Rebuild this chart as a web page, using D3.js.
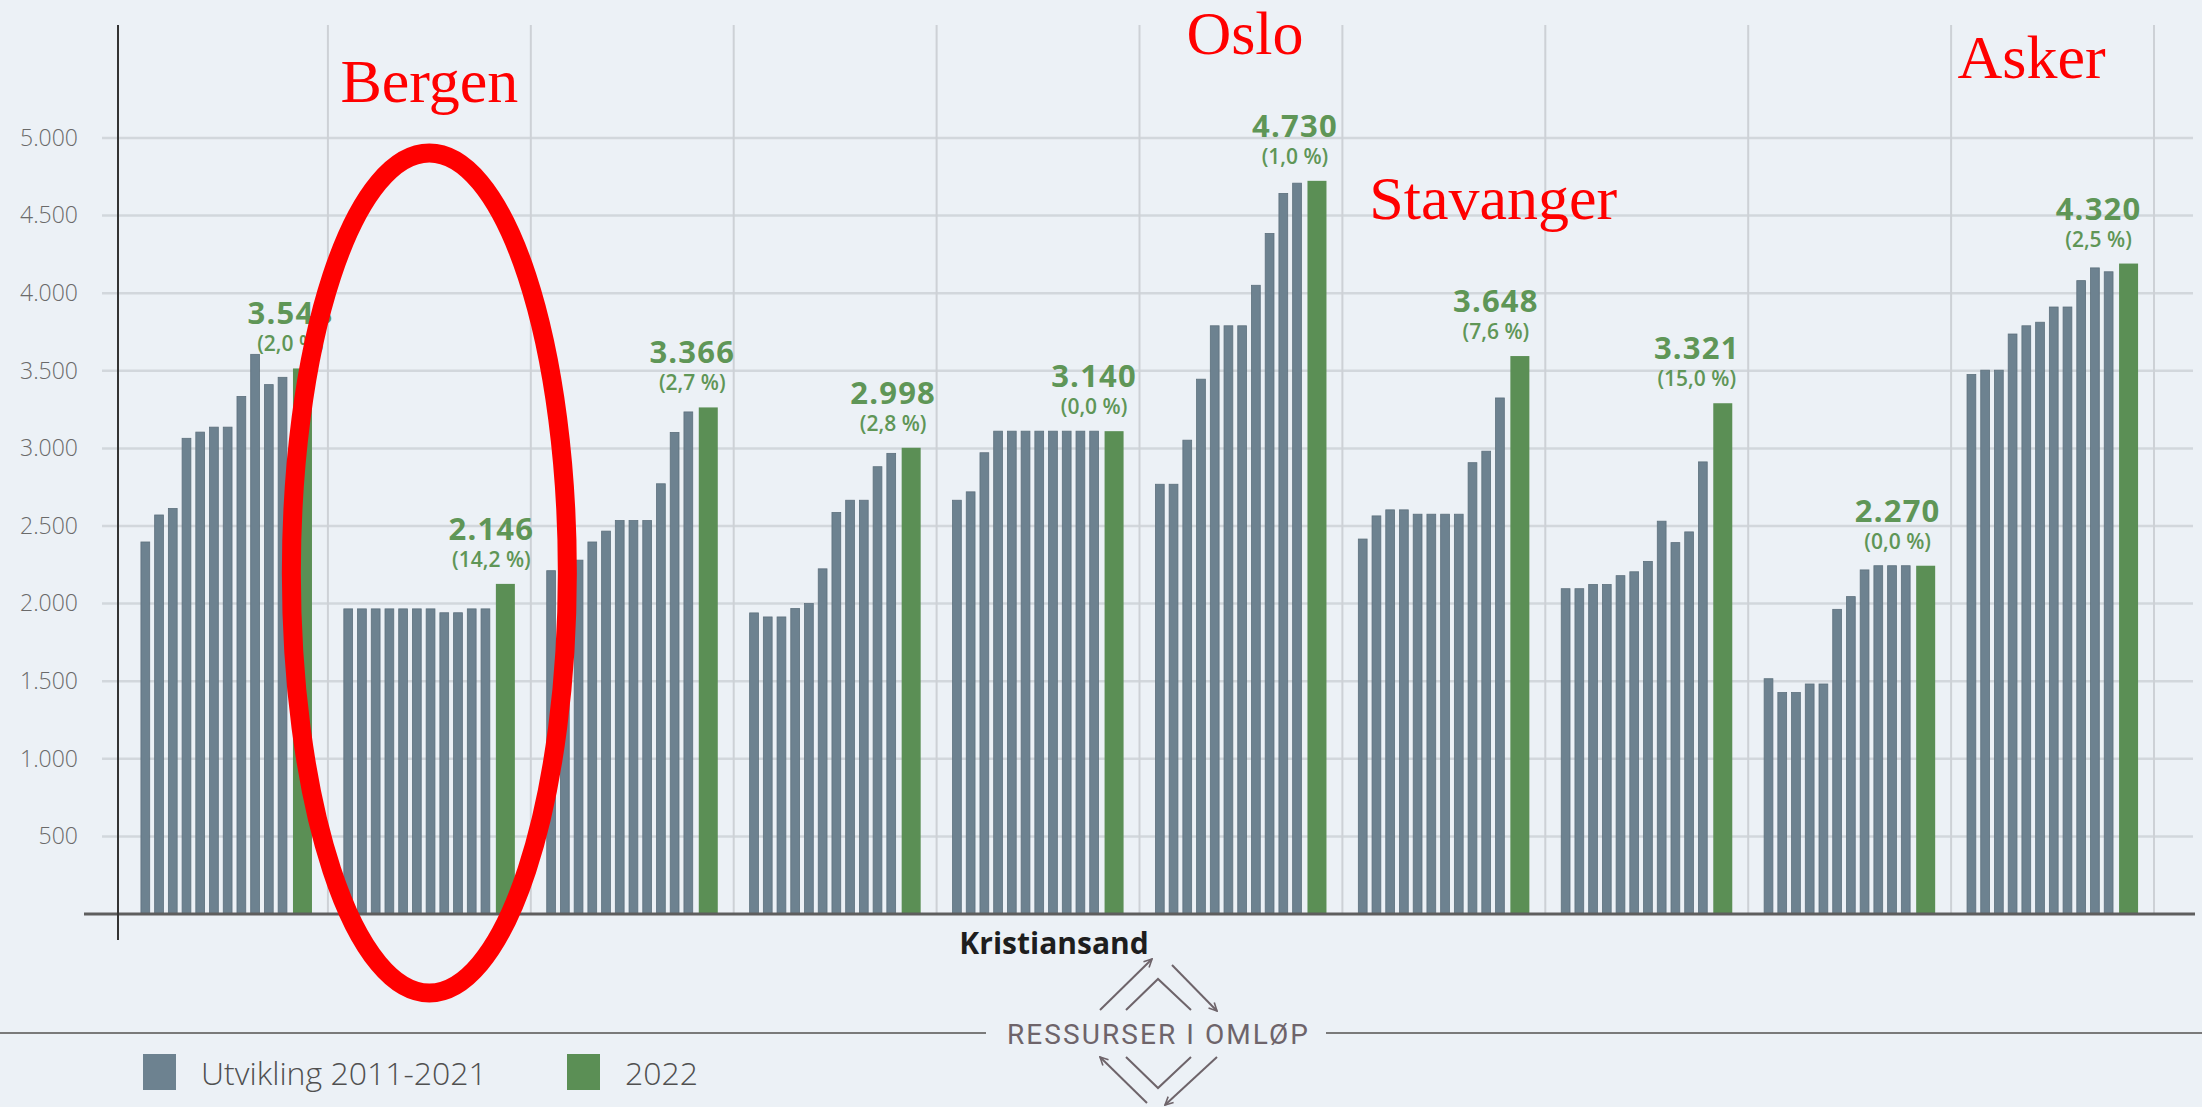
<!DOCTYPE html>
<html lang="no">
<head>
<meta charset="utf-8">
<title>Utvikling 2011-2022</title>
<script src="https://cdn.jsdelivr.net/npm/d3@7"></script>
<style>
  body { margin: 0; background: #ecf1f6; }
  svg { display: block; }
</style>
</head>
<body>
<svg width="2202" height="1107"></svg>
<script>
// ---- data ----
const groups = d3.range(10);
const years = d3.range(2011, 2022);
const axisNames = ["", "", "", "", "Kristiansand", "", "", "", "", ""];
const dev = [
  [2397, 2571, 2613, 3065, 3105, 3137, 3137, 3335, 3606, 3411, 3458],
  [1966, 1966, 1966, 1966, 1966, 1966, 1966, 1941, 1941, 1966, 1966],
  [2212, 2245, 2280, 2397, 2467, 2535, 2535, 2535, 2772, 3103, 3235],
  [1940, 1914, 1914, 1968, 2000, 2224, 2587, 2666, 2666, 2882, 2968],
  [2666, 2720, 2972, 3111, 3111, 3111, 3111, 3111, 3111, 3111, 3111],
  [2769, 2769, 3053, 3446, 3790, 3790, 3790, 4051, 4385, 4643, 4709],
  [2416, 2565, 2604, 2604, 2576, 2576, 2576, 2576, 2908, 2982, 3325],
  [2096, 2096, 2123, 2123, 2180, 2205, 2272, 2531, 2393, 2462, 2913],
  [1516, 1427, 1427, 1482, 1482, 1963, 2045, 2217, 2244, 2244, 2244],
  [3476, 3504, 3504, 3737, 3790, 3813, 3911, 3911, 4081, 4163, 4138]
];
const v2022 = [3515, 2127, 3264, 3004, 3111, 4724, 3595, 3291, 2244, 4191];
const labels2022 = ["3.548", "2.146", "3.366", "2.998", "3.140", "4.730", "3.648", "3.321", "2.270", "4.320"];
const pct2022 = ["(2,0 %)", "(14,2 %)", "(2,7 %)", "(2,8 %)", "(0,0 %)", "(1,0 %)", "(7,6 %)", "(15,0 %)", "(0,0 %)", "(2,5 %)"];
const yTicks = [500, 1000, 1500, 2000, 2500, 3000, 3500, 4000, 4500, 5000];
const legendItems = ["Utvikling 2011-2021", "2022"];
const notes = ["Bergen", "Oslo", "Stavanger", "Asker"];
const noteGroups = [1, 5, 6, 9];

// ---- setup ----
const svg = d3.select("svg");
const grey = "#6d8290";
const green = "#5b8f55";
const labelGreen = "#5f9657";
const fmt = d3.formatLocale({decimal: ",", thousands: ".", grouping: [3], currency: ["", ""]}).format(",d");

const y = d3.scaleLinear().domain([0, 5000]).range([914, 138]);
const x0 = d3.scaleBand().domain(groups).range([118, 2161]).paddingInner(0.157).paddingOuter(0.113);
const x1 = d3.scaleBand().domain(years).range([0, 146]).paddingInner(0.36);
const bw = x0.bandwidth();
const greenW = 19;

// horizontal grid
svg.append("g")
  .selectAll("line")
  .data(yTicks)
  .join("line")
  .attr("x1", 102).attr("x2", 2193)
  .attr("y1", d => y(d)).attr("y2", d => y(d))
  .attr("stroke", "#d2d7dc")
  .attr("stroke-width", 2.5);

// vertical separators
svg.append("g")
  .selectAll("line")
  .data(groups)
  .join("line")
  .attr("x1", d => x0(d) + bw + (x0.step() - bw) / 2)
  .attr("x2", d => x0(d) + bw + (x0.step() - bw) / 2)
  .attr("y1", 25).attr("y2", y(0))
  .attr("stroke", "#cdd1d6")
  .attr("stroke-width", 2);

// y axis labels
const yAxis = svg.append("g")
  .attr("transform", "translate(118,0)")
  .call(d3.axisLeft(y).tickValues(yTicks).tickFormat(fmt).tickSize(0).tickPadding(40));
yAxis.select(".domain").remove();
yAxis.selectAll("text")
  .attr("font-family", "'Open Sans', sans-serif")
  .attr("font-weight", 300)
  .attr("font-size", 23)
  .attr("fill", "#6a6a6a");

// bars
const grp = svg.append("g")
  .selectAll("g")
  .data(groups)
  .join("g")
  .attr("transform", d => `translate(${x0(d)},0)`);

grp.selectAll("rect.dev")
  .data(g => dev[g].map((v, i) => ({year: years[i], v: v})))
  .join("rect")
  .attr("class", "dev")
  .attr("x", d => x1(d.year))
  .attr("width", x1.bandwidth())
  .attr("y", d => y(d.v))
  .attr("height", d => y(0) - y(d.v))
  .attr("fill", grey)
  .attr("stroke", "#5d707d")
  .attr("stroke-width", 0.8);

grp.append("rect")
  .attr("x", bw - greenW)
  .attr("width", greenW)
  .attr("y", g => y(v2022[g]))
  .attr("height", g => y(0) - y(v2022[g]))
  .attr("fill", green);

// value labels (sit a little left of the green bar, drifting further left to the right)
const labelX = g => bw - greenW / 2 - 12 - 2 * g;

grp.append("text")
  .attr("x", labelX)
  .attr("y", g => y(v2022[g]) - 44)
  .attr("text-anchor", "middle")
  .attr("font-family", "'Open Sans', sans-serif")
  .attr("font-weight", 700)
  .attr("font-size", 31)
  .attr("letter-spacing", 1.2)
  .attr("fill", labelGreen)
  .text(g => labels2022[g]);

grp.append("text")
  .attr("x", labelX)
  .attr("y", g => y(v2022[g]) - 17)
  .attr("text-anchor", "middle")
  .attr("font-family", "'Open Sans', sans-serif")
  .attr("font-weight", 600)
  .attr("font-size", 21)
  .attr("fill", labelGreen)
  .text(g => pct2022[g]);

// baseline and y axis line
svg.append("line")
  .attr("x1", 84).attr("x2", 2195)
  .attr("y1", y(0)).attr("y2", y(0))
  .attr("stroke", "#5e5e5e").attr("stroke-width", 3);
svg.append("line")
  .attr("x1", 118).attr("x2", 118)
  .attr("y1", 25).attr("y2", 940)
  .attr("stroke", "#333").attr("stroke-width", 2);

// category label
svg.append("g")
  .selectAll("text")
  .data(groups.filter(g => axisNames[g]))
  .join("text")
  .attr("x", g => x0(g) + bw / 2 + 16)
  .attr("y", 954)
  .attr("text-anchor", "middle")
  .attr("font-family", "'Open Sans', sans-serif")
  .attr("font-weight", 700)
  .attr("font-size", 30)
  .attr("fill", "#1e1e1e")
  .text(g => axisNames[g]);

// footer rule + logo
const logoCol = "#6e646a";
svg.append("line").attr("x1", 0).attr("x2", 986).attr("y1", 1033).attr("y2", 1033)
  .attr("stroke", "#7a7a7a").attr("stroke-width", 2);
svg.append("line").attr("x1", 1326).attr("x2", 2202).attr("y1", 1033).attr("y2", 1033)
  .attr("stroke", "#7a7a7a").attr("stroke-width", 2);
svg.append("text")
  .attr("x", 1007).attr("y", 1044)
  .attr("textLength", 301).attr("lengthAdjust", "spacing")
  .attr("font-family", "Roboto, sans-serif")
  .attr("font-size", 28)
  .attr("fill", logoCol)
  .text("RESSURSER I OMLØP");

svg.append("defs").append("marker")
  .attr("id", "arr")
  .attr("viewBox", "0 0 10 10")
  .attr("refX", 9).attr("refY", 5)
  .attr("markerWidth", 5).attr("markerHeight", 5)
  .attr("orient", "auto")
  .append("path")
  .attr("d", "M1,1 L9,5 L1,9")
  .attr("fill", "none")
  .attr("stroke", logoCol)
  .attr("stroke-width", 1.6);

const logo = svg.append("g")
  .attr("fill", "none")
  .attr("stroke", logoCol)
  .attr("stroke-width", 2);
logo.append("path").attr("d", "M1100,1010 L1152,959").attr("marker-end", "url(#arr)");
logo.append("path").attr("d", "M1172,965 L1217,1011").attr("marker-end", "url(#arr)");
logo.append("path").attr("d", "M1126,1010 L1158,979 L1191,1010");
logo.append("path").attr("d", "M1147,1103 L1100,1057").attr("marker-end", "url(#arr)");
logo.append("path").attr("d", "M1217,1057 L1165,1105").attr("marker-end", "url(#arr)");
logo.append("path").attr("d", "M1126,1057 L1158,1088 L1191,1057");

// legend
const leg = svg.append("g")
  .selectAll("g")
  .data(legendItems)
  .join("g")
  .attr("transform", (d, i) => `translate(${i === 0 ? 143 : 567},1054)`);
leg.append("rect")
  .attr("width", 33).attr("height", 36)
  .attr("fill", (d, i) => i === 0 ? grey : green);
leg.append("text")
  .attr("x", 58).attr("y", 31)
  .attr("font-family", "'Open Sans', sans-serif")
  .attr("font-weight", 300)
  .attr("font-size", 32)
  .attr("fill", "#505050")
  .text(d => d);

// red annotations
svg.append("ellipse")
  .attr("cx", x0(1) + bw / 2)
  .attr("cy", 573)
  .attr("rx", 138).attr("ry", 420)
  .attr("fill", "none")
  .attr("stroke", "#ff0000")
  .attr("stroke-width", 19);

const noteDx = [bw / 2, bw / 2 + 4, 11, bw / 2 - 21];
const noteY = [102, 54, 219, 78];
const noteAnchor = ["middle", "middle", "start", "middle"];
svg.append("g")
  .selectAll("text")
  .data(notes)
  .join("text")
  .attr("x", (d, i) => x0(noteGroups[i]) + noteDx[i])
  .attr("y", (d, i) => noteY[i])
  .attr("text-anchor", (d, i) => noteAnchor[i])
  .attr("font-family", "'Liberation Serif', 'Times New Roman', serif")
  .attr("font-size", 62)
  .attr("fill", "#ff0000")
  .text(d => d);
</script>
</body>
</html>
